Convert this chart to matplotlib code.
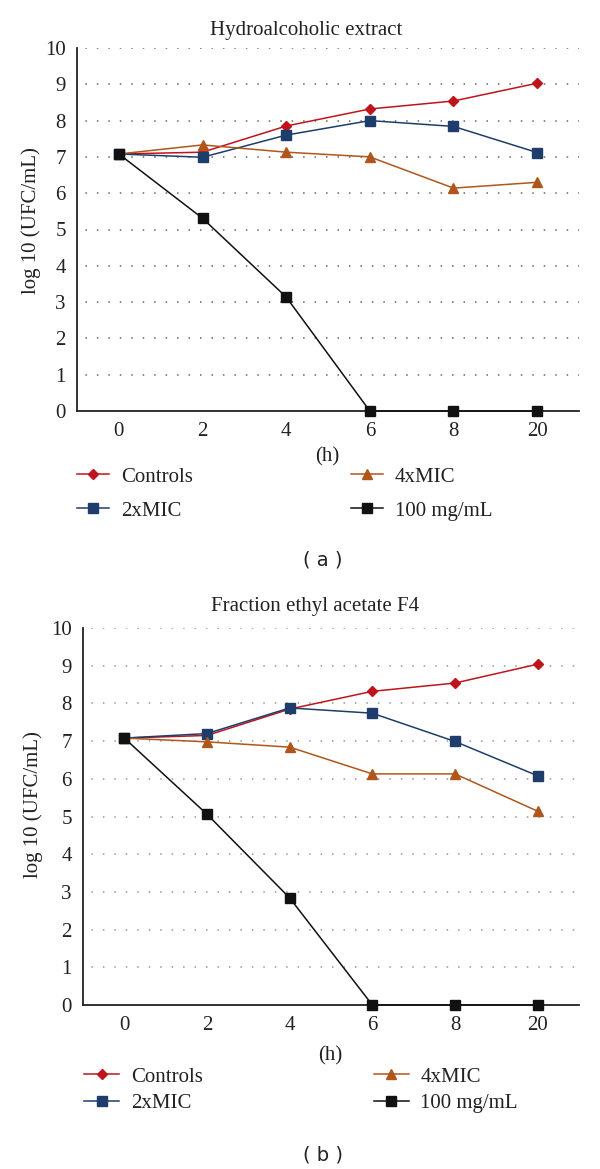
import matplotlib
matplotlib.use("Agg")
import matplotlib.pyplot as plt

hours = ["0", "2", "4", "6", "8", "20"]
series_names = ["Controls", "2xMIC", "4xMIC", "100 mg/mL"]

# Panel (a) Hydroalcoholic extract
a_controls = [7.08, 7.13, 7.85, 8.32, 8.54, 9.03]
a_2xmic = [7.08, 6.99, 7.60, 8.00, 7.84, 7.12]
a_4xmic = [7.08, 7.33, 7.13, 7.00, 6.14, 6.30]
a_100 = [7.08, 5.31, 3.14, 0.0, 0.0, 0.0]

# Panel (b) Fraction ethyl acetate F4
b_controls = [7.08, 7.15, 7.85, 8.32, 8.54, 9.04]
b_2xmic = [7.08, 7.20, 7.88, 7.74, 6.99, 6.08]
b_4xmic = [7.08, 6.98, 6.84, 6.13, 6.13, 5.14]
b_100 = [7.08, 5.06, 2.84, 0.0, 0.0, 0.0]

colors = ["#C0141C", "#1F3D6B", "#B0561A", "#111111"]
markers = ["D", "s", "^", "s"]
msizes = [5.5, 7, 7, 7]

serif = ["Liberation Serif", "DejaVu Serif"]
plt.rcParams['font.family'] = serif

W, H = 600, 1169
fig = plt.figure(figsize=(W / 100, H / 100), dpi=100)


def fx(px):
    return px / W


def fy(py):
    return 1 - py / H


def panel(left, right, top, bottom, title, title_xy, ylab_xy, data,
          hlab_xy, leg_xy, leg_hl, leg_colspace, leg_labelspace, grid_col,
          cap, cap_xy):
    ax = fig.add_axes([fx(left), fy(bottom), fx(right - left), fy(top) - fy(bottom)])
    x = list(range(len(hours)))
    handles = []
    for vals, c, m, ms, name in zip(data, colors, markers, msizes, series_names):
        h, = ax.plot(x, vals, color=c, marker=m, markersize=ms, lw=1.1,
                     markeredgecolor=c, label=name, clip_on=False, zorder=3)
        handles.append(h)
    ax.set_xlim(-0.5, 5.5)
    ax.set_ylim(0, 10)
    ax.set_xticks(x)
    ax.set_xticklabels(hours)
    ax.set_yticks(range(0, 11))
    ax.tick_params(axis='both', length=0, labelsize=15, colors='#222222')
    ax.tick_params(axis='y', pad=8)
    ax.tick_params(axis='x', pad=8)
    for yv in range(1, 11):
        ax.axhline(yv, color=grid_col, lw=1.1, ls=(2, (1, 6.5)), zorder=1)
    for s in ['top', 'right']:
        ax.spines[s].set_visible(False)
    ax.spines['left'].set_color('#222222')
    ax.spines['bottom'].set_color('#222222')
    ax.spines['left'].set_linewidth(1.3)
    ax.spines['bottom'].set_linewidth(1.3)
    fig.text(fx(title_xy[0]), fy(title_xy[1]), title, ha='center', va='center',
             fontsize=15, color='#222222')
    fig.text(fx(ylab_xy[0]), fy(ylab_xy[1]), "log 10 (UFC/mL)", ha='center',
             va='center', rotation=90, fontsize=15, color='#222222')
    fig.text(fx(hlab_xy[0]), fy(hlab_xy[1]), "(h)", ha='center', va='center',
             fontsize=15, color='#222222')
    leg = ax.legend(handles=handles, ncol=2, loc='upper left',
                    bbox_to_anchor=(fx(leg_xy[0]), fy(leg_xy[1])),
                    bbox_transform=fig.transFigure, frameon=False,
                    borderpad=0, borderaxespad=0, handlelength=leg_hl,
                    handletextpad=0.55, columnspacing=leg_colspace,
                    labelspacing=leg_labelspace, fontsize=15)
    for t in leg.get_texts():
        t.set_color('#222222')
    fig.text(fx(cap_xy[0]), fy(cap_xy[1]), cap, ha='center', va='center',
             fontsize=14, family=['DejaVu Sans'], color='#222222')
    return ax


panel(77, 579, 48, 411, "Hydroalcoholic extract", (306, 30), (31, 221),
      [a_controls, a_2xmic, a_4xmic, a_100], (327, 457), (77, 467), 1.55, 7.6, 0.7,
      '#666666', "( a )", (323, 560))

panel(83, 579, 628, 1005, "Fraction ethyl acetate F4", (315, 607), (33, 805),
      [b_controls, b_2xmic, b_4xmic, b_100], (330, 1056), (84, 1067), 1.7, 8.2, 0.35,
      '#999999', "( b )", (323, 1155))

fig.savefig("out.png", dpi=100)
